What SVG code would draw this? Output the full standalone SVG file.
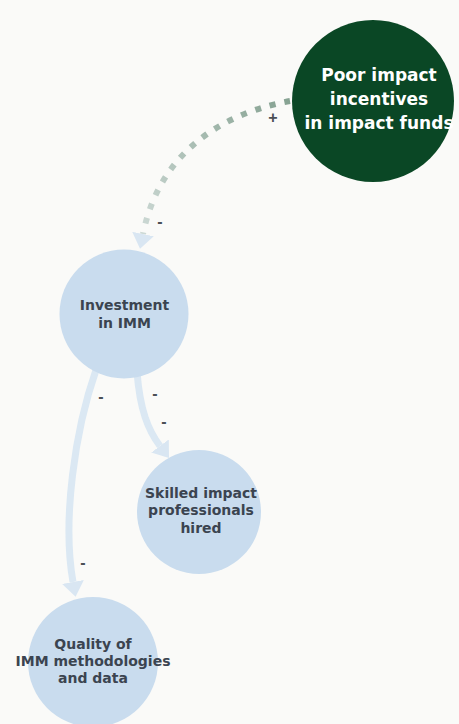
<svg xmlns="http://www.w3.org/2000/svg" width="459" height="724" viewBox="0 0 459 724">
  <style>
    .bg { fill: #fafaf8; }
    .node-light { fill: #c9dcee; }
    .node-dark { fill: #0a4725; }
    .label { font-family: "DejaVu Sans", "Liberation Sans", sans-serif; font-weight: 700; font-size: 14px; text-anchor: middle; fill: #3b4450; }
    .label-dark { font-family: "DejaVu Sans", "Liberation Sans", sans-serif; font-weight: 700; font-size: 17px; text-anchor: middle; fill: #ffffff; }
    .link { fill: none; stroke: #dbe8f3; stroke-width: 7; stroke-linecap: butt; }
    .link-dotted { fill: none; stroke: url(#dotFade); stroke-width: 6; stroke-dasharray: 6 9; }
    .sign { font-family: "Liberation Sans", "DejaVu Sans", sans-serif; font-weight: 700; font-size: 16px; text-anchor: middle; fill: #4a4f55; }
  </style>
  <defs>
    <linearGradient id="dotFade" gradientUnits="userSpaceOnUse" x1="290" y1="101" x2="143" y2="234">
      <stop offset="0" stop-color="#86a292"/>
      <stop offset="1" stop-color="#cdd9d5"/>
    </linearGradient>
    <marker id="arrow" viewBox="0 0 15 22" refX="0" refY="11" markerWidth="15" markerHeight="22" markerUnits="userSpaceOnUse" orient="auto">
      <path d="M0 0 L15 11 L0 22 Z" fill="#d9e6f2"/>
    </marker>
  </defs>

  <rect class="bg" x="0" y="0" width="459" height="724"/>

  <g id="connectors">
    <path class="link-dotted" d="M 290 101 C 240 110, 162 140, 143 234" marker-end="url(#arrow)"/>
    <path class="link" d="M 137 372 C 140 410, 148 430, 160 446" marker-end="url(#arrow)"/>
    <path class="link" d="M 96 370 C 75 430, 62 520, 73 582" marker-end="url(#arrow)"/>
    <text class="sign" x="273" y="123">+</text>
    <text class="sign" x="160" y="227">-</text>
    <text class="sign" x="101" y="402">-</text>
    <text class="sign" x="155" y="399">-</text>
    <text class="sign" x="164" y="427">-</text>
    <text class="sign" x="83" y="568">-</text>
  </g>

  <g id="poor-impact-incentives">
    <circle class="node-dark" cx="373" cy="101" r="81"/>
    <text class="label-dark" x="379" y="81">Poor impact</text>
    <text class="label-dark" x="379" y="105">incentives</text>
    <text class="label-dark" x="379" y="129">in impact funds</text>
  </g>

  <g id="investment-in-imm">
    <circle class="node-light" cx="124" cy="314" r="64.5"/>
    <text class="label" x="124.5" y="310">Investment</text>
    <text class="label" x="124.5" y="327.5">in IMM</text>
  </g>

  <g id="skilled-professionals">
    <circle class="node-light" cx="199" cy="512" r="62"/>
    <text class="label" x="201" y="497.5">Skilled impact</text>
    <text class="label" x="201" y="515">professionals</text>
    <text class="label" x="201" y="532.5">hired</text>
  </g>

  <g id="quality-of-imm">
    <circle class="node-light" cx="93" cy="662" r="65"/>
    <text class="label" x="93" y="648.5">Quality of</text>
    <text class="label" x="93" y="665.5">IMM methodologies</text>
    <text class="label" x="93" y="682.5">and data</text>
  </g>
</svg>
